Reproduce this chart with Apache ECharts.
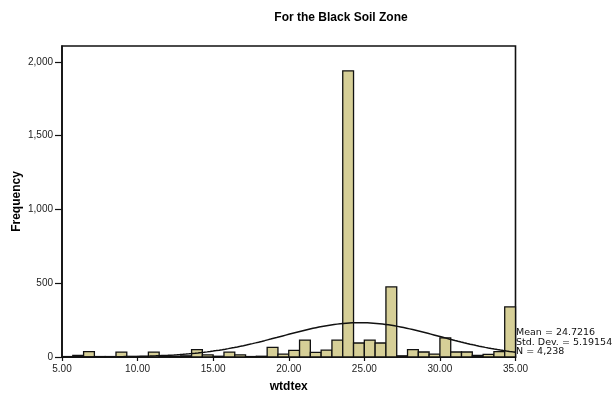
<!DOCTYPE html>
<html>
<head>
<meta charset="utf-8">
<title>For the Black Soil Zone</title>
<script src="https://cdn.jsdelivr.net/npm/echarts@6/dist/echarts.min.js"></script>
<style>
  html, body { margin: 0; padding: 0; background: #fff; }
  #chart { width: 613px; height: 397px; }
</style>
</head>
<body>
<div id="chart"></div>
<script>
// Histogram binning: 42 equal bins over 5.00 .. 35.00
const binStart = 5;
const binWidth = 5 / 7;

// Frequency in each bin, left to right
const counts = [
  3, 10, 36, 3, 3, 33, 3, 3, 33, 3,
  5, 8, 50, 15, 5, 33, 15, 3, 5, 65,
  20, 45, 115, 32, 47, 115, 1940, 95, 115, 95,
  475, 8, 50, 34, 20, 130, 34, 34, 10, 18,
  36, 340
];

// Summary statistics shown beside the chart; the normal curve uses them
const statMean = 24.7216;
const statStd = 5.19154;
const statN = 4238;

const xTicks = [5, 10, 15, 20, 25, 30, 35];
const yTicks = [0, 500, 1000, 1500, 2000];

// Bars as [lower edge, upper edge, count]
const barData = counts.map((c, i) => [binStart + i * binWidth, binStart + (i + 1) * binWidth, c]);

// Normal density scaled to counts per bin
const curveData = [];
for (let x = xTicks[0]; x <= xTicks[xTicks.length - 1] + 1e-9; x += 0.1) {
  const z = (x - statMean) / statStd;
  const y = statN * binWidth / (statStd * Math.sqrt(2 * Math.PI)) * Math.exp(-0.5 * z * z);
  curveData.push([x, y]);
}

const fmtThousands = v => v.toLocaleString('en-US');
const FONT = 'Liberation Sans, Arial, sans-serif';

const chart = echarts.init(document.getElementById('chart'), null, { renderer: 'canvas' });
chart.setOption({
  animation: false,
  backgroundColor: '#ffffff',
  title: {
    text: 'For the Black Soil Zone',
    left: 336,
    top: 7,
    textAlign: 'center',
    textStyle: { fontFamily: FONT, fontSize: 12, fontWeight: 'bold', color: '#000' }
  },
  grid: {
    left: 62, right: 97.5, top: 46, bottom: 40,
    containLabel: false, outerBoundsMode: 'none',
    show: true, borderColor: '#111', borderWidth: 1.6, backgroundColor: '#fff'
  },
  xAxis: {
    type: 'value',
    min: xTicks[0], max: xTicks[xTicks.length - 1], interval: 5,
    name: 'wtdtex', nameLocation: 'middle', nameGap: 24, nameMoveOverlap: false,
    nameTextStyle: { fontFamily: FONT, fontSize: 12, fontWeight: 'bold', color: '#000' },
    axisLine: { show: true, lineStyle: { color: '#111', width: 1.6 } },
    axisTick: { show: true, length: 4, lineStyle: { color: '#111', width: 1.2 } },
    axisLabel: {
      margin: 7, fontFamily: FONT, fontSize: 10, color: '#222',
      formatter: v => v.toFixed(2)
    },
    splitLine: { show: false }
  },
  yAxis: {
    type: 'value',
    min: 0, max: 2108, interval: 500,
    name: 'Frequency', nameLocation: 'middle', nameGap: 39, nameRotate: 90, nameMoveOverlap: false,
    nameTextStyle: { fontFamily: FONT, fontSize: 12, fontWeight: 'bold', color: '#000' },
    axisLine: { show: true, lineStyle: { color: '#111', width: 1.6 } },
    axisTick: { show: true, length: 7, customValues: yTicks, lineStyle: { color: '#111', width: 1.2 } },
    axisLabel: {
      margin: 9, fontFamily: FONT, fontSize: 10, color: '#222',
      customValues: yTicks,
      formatter: v => fmtThousands(v)
    },
    splitLine: { show: false }
  },
  series: [
    {
      type: 'custom',
      data: barData,
      encode: { x: [0, 1], y: 2 },
      z: 2,
      renderItem: function (params, api) {
        const p0 = api.coord([api.value(0), api.value(2)]);
        const p1 = api.coord([api.value(1), 0]);
        return {
          type: 'rect',
          shape: { x: p0[0], y: p0[1], width: p1[0] - p0[0], height: p1[1] - p0[1] },
          style: { fill: '#d6cf97', stroke: '#111', lineWidth: 1.3 }
        };
      }
    },
    {
      type: 'line',
      data: curveData,
      showSymbol: false,
      smooth: false,
      z: 3,
      lineStyle: { color: '#111', width: 1.5 }
    }
  ],
  graphic: [
    {
      type: 'text',
      left: 516,
      top: 328,
      style: {
        text: 'Mean = ' + statMean + '\nStd. Dev. = ' + statStd + '\nN = ' + fmtThousands(statN),
        fontFamily: 'DejaVu Sans, sans-serif',
        fontSize: 9.5,
        lineHeight: 9.5,
        fill: '#111'
      }
    }
  ]
});
</script>
</body>
</html>
